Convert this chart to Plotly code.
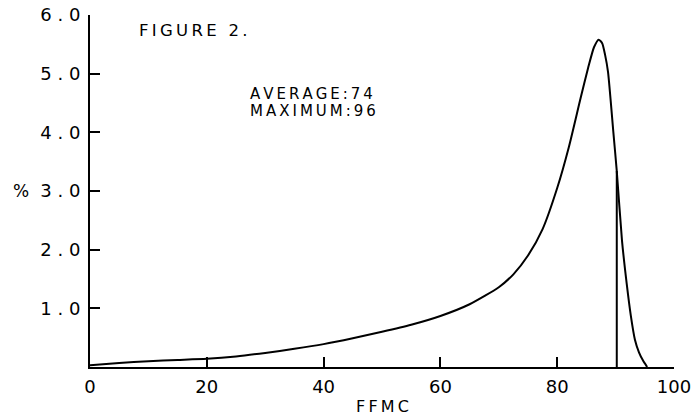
import plotly.graph_objects as go

# FFMC distribution curve
ffmc = [0, 5, 10, 15, 20, 25, 30, 35, 40, 45, 50, 55, 60, 65, 70, 72.5, 75, 77.5,
        80, 82, 84, 85.3, 86.3, 87.1, 87.7, 88.2, 88.7, 89.6, 90.2, 91.1, 91.9,
        92.6, 93.3, 94, 94.7, 95.4]
pct = [0.03, 0.07, 0.10, 0.12, 0.14, 0.18, 0.24, 0.31, 0.39, 0.49, 0.60, 0.72, 0.87,
       1.07, 1.36, 1.58, 1.90, 2.35, 3.05, 3.75, 4.58, 5.10, 5.45, 5.58, 5.52, 5.32,
       5.03, 4.02, 3.34, 2.15, 1.42, 0.88, 0.47, 0.25, 0.11, 0.0]

# vertical marker line
marker_x = [90.2, 90.2]
marker_y = [0, 3.34]

y_ticks = [1, 2, 3, 4, 5, 6]
y_labels = ['1.0', '2.0', '3.0', '4.0', '5.0', '6.0']
x_ticks = [0, 20, 40, 60, 80, 100]
x_labels = ['0', '20', '40', '60', '80', '100']

font = 'DejaVu Sans, sans-serif'


def spaced(s, gap='\u2009'):
    # the original lettering is widely tracked
    return gap.join(s)


fig = go.Figure()
fig.add_trace(go.Scatter(x=ffmc, y=pct, mode='lines',
                         line=dict(color='black', width=2, shape='spline', smoothing=0.6)))
fig.add_trace(go.Scatter(x=marker_x, y=marker_y, mode='lines',
                         line=dict(color='black', width=2)))

fig.update_layout(
    width=694, height=420,
    margin=dict(l=90, r=20, t=15, b=53, autoexpand=False),
    plot_bgcolor='white', paper_bgcolor='white',
    showlegend=False,
    font=dict(family=font, color='black'),
)
fig.update_xaxes(range=[0, 100], tickvals=x_ticks, ticktext=x_labels,
                 ticks='inside', ticklen=10, tickwidth=1.5, tickcolor='black',
                 showline=True, linecolor='black', linewidth=2,
                 showgrid=False, zeroline=False, automargin=False,
                 ticklabeloverflow='allow',
                 tickfont=dict(size=18, family=font), ticklabelstandoff=2)
fig.update_yaxes(range=[0, 6], tickvals=y_ticks,
                 ticktext=[spaced(t, ' ') for t in y_labels],
                 ticks='inside', ticklen=10, tickwidth=1.5, tickcolor='black',
                 showline=True, linecolor='black', linewidth=2,
                 showgrid=False, zeroline=False, automargin=False,
                 ticklabeloverflow='allow',
                 tickfont=dict(size=18, family=font), ticklabelstandoff=4)

fig.add_annotation(text=spaced('FFMC'), x=0.5, y=-0.111, xref='paper', yref='paper',
                   showarrow=False, xanchor='center', yanchor='middle', font=dict(size=16))
fig.add_annotation(text='%', x=-0.118, y=3, xref='paper', yref='y', showarrow=False,
                   xanchor='center', yanchor='middle', font=dict(size=17))
fig.add_annotation(text=spaced('FIGURE 2.'), x=8.05, y=5.73, xref='x', yref='y',
                   showarrow=False, xanchor='left', yanchor='middle', font=dict(size=16.5))
fig.add_annotation(text=spaced('AVERAGE:74'), x=27.05, y=4.65, xref='x', yref='y',
                   showarrow=False, xanchor='left', yanchor='middle', font=dict(size=15))
fig.add_annotation(text=spaced('MAXIMUM:96'), x=27.05, y=4.36, xref='x', yref='y',
                   showarrow=False, xanchor='left', yanchor='middle', font=dict(size=15))

# drop the default page margin so the figure fills the window exactly
fig.write_html('out.html', config={'displayModeBar': False},
               post_script="document.body.style.margin='0';document.body.style.overflow='hidden';")
